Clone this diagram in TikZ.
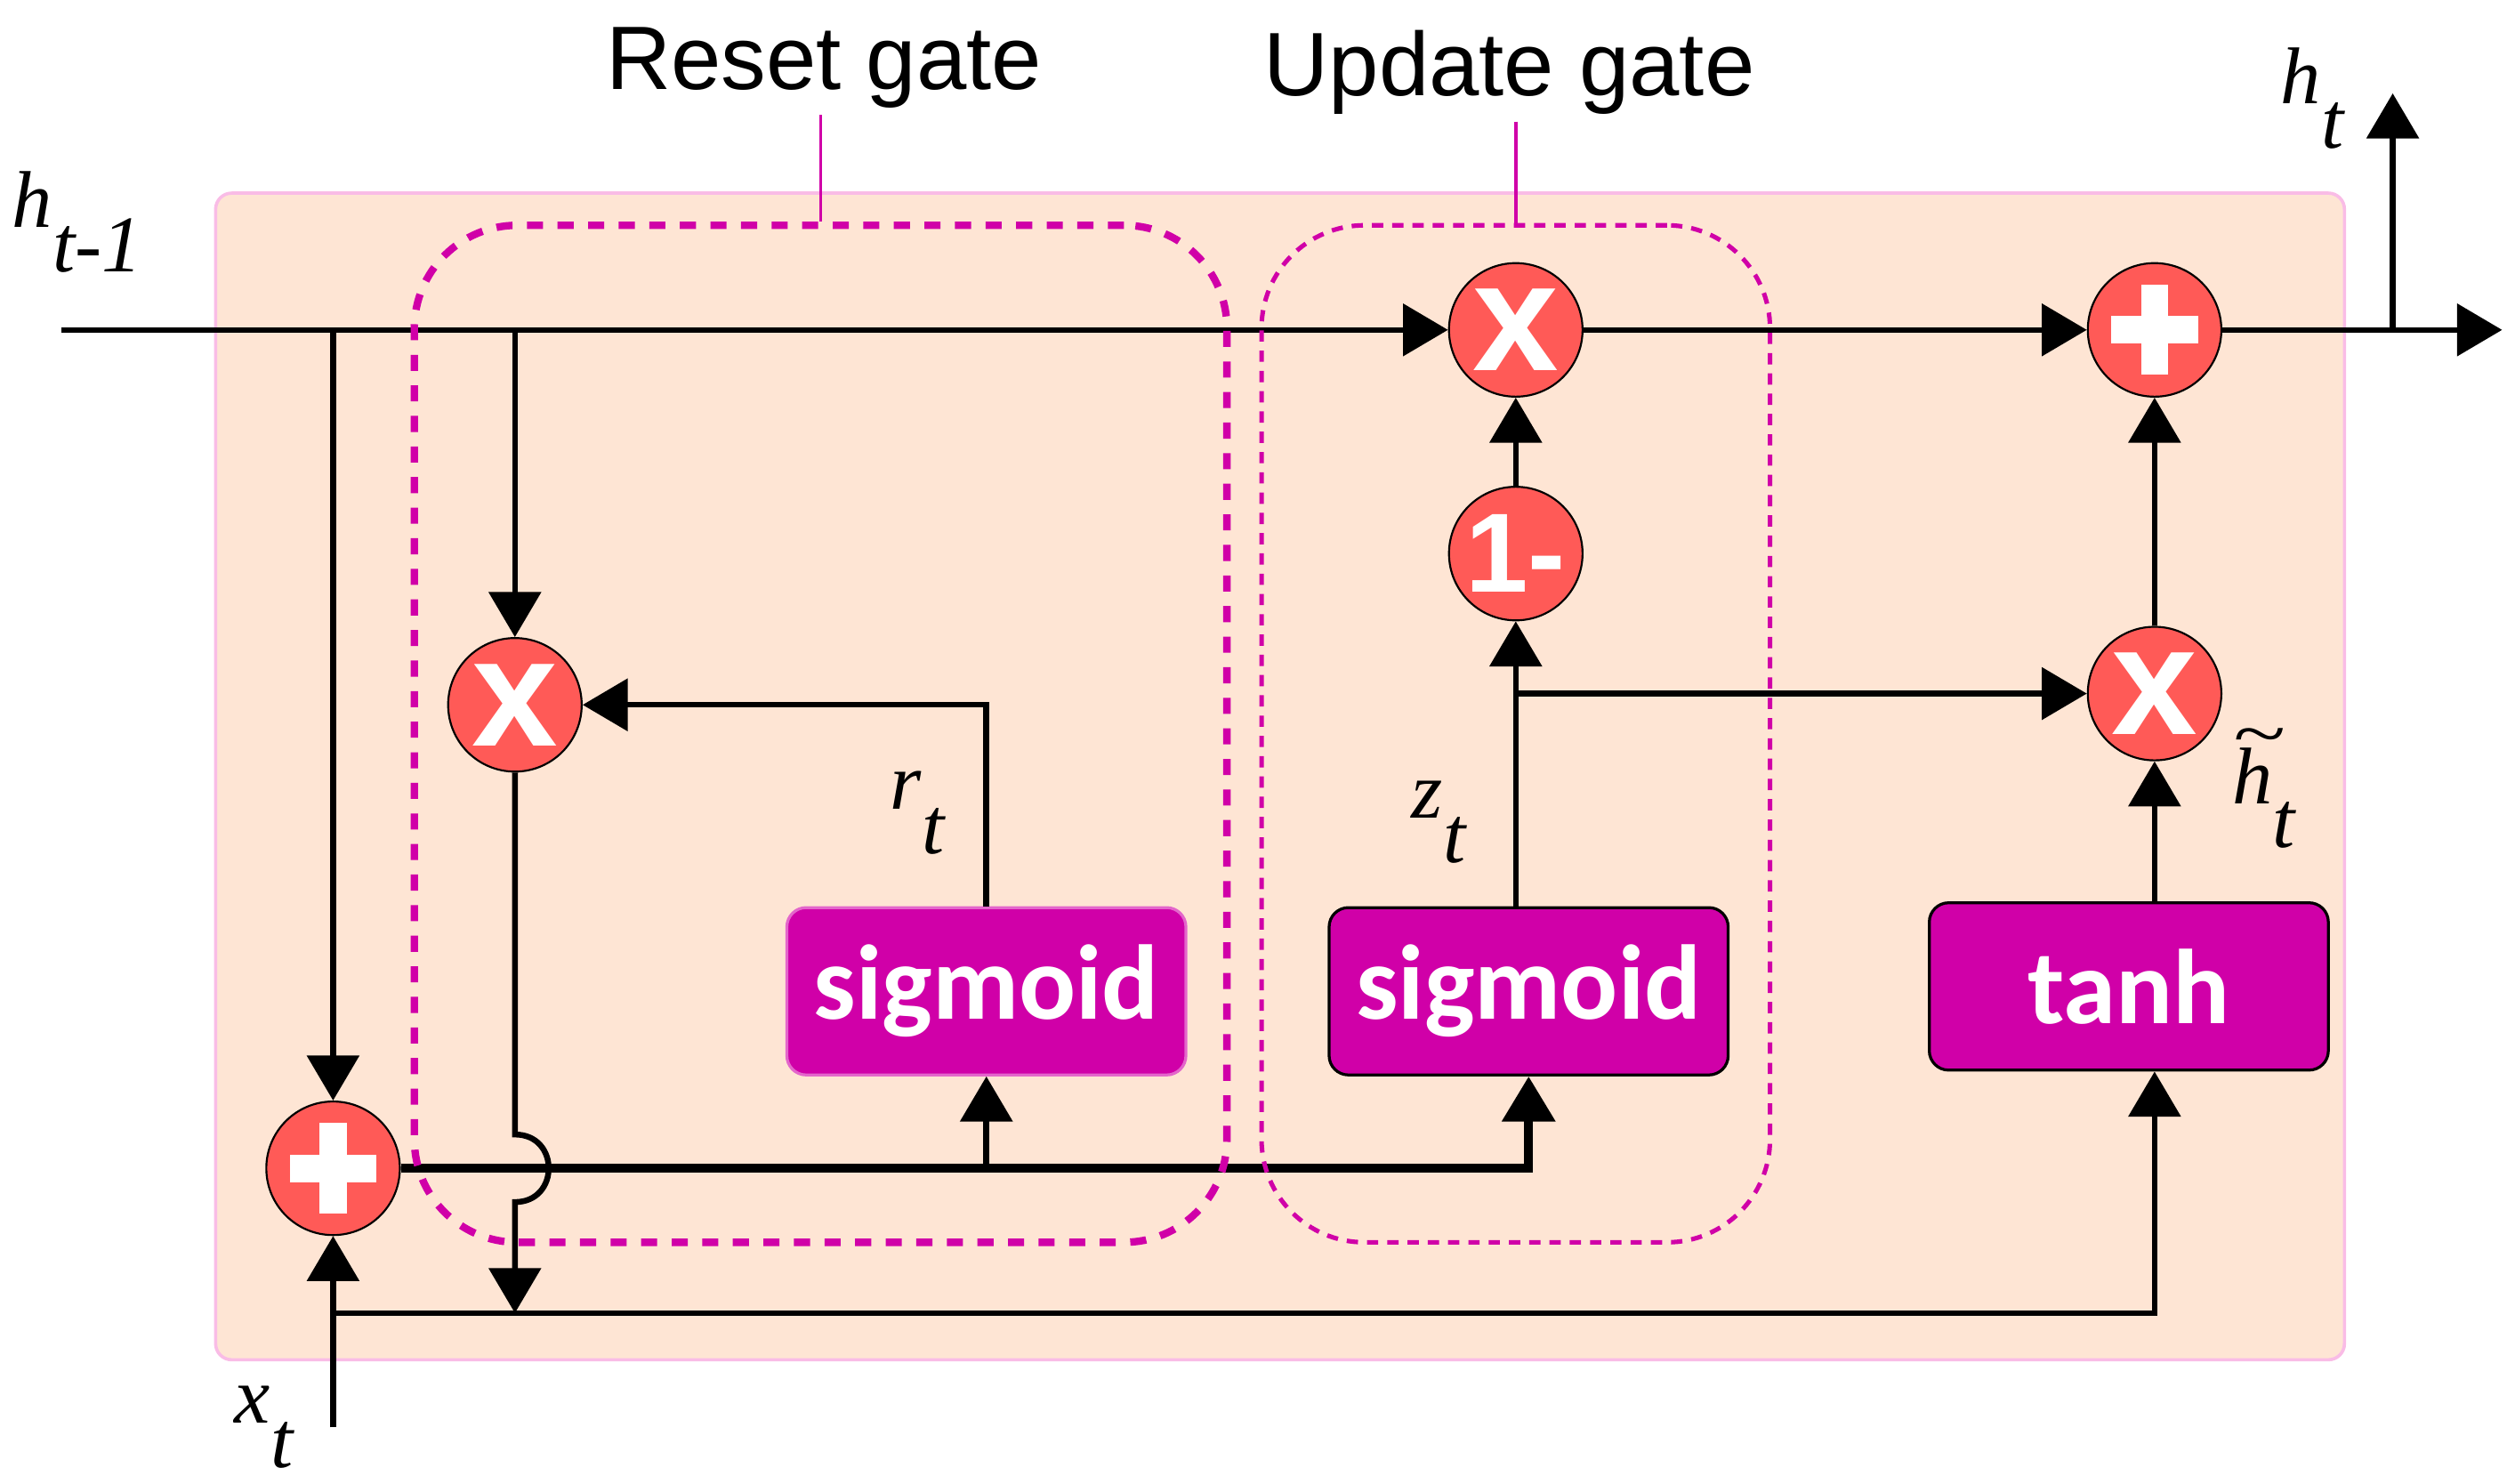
\documentclass[tikz,border=0pt]{standalone}
\usepackage{fontspec}
\setmainfont{Liberation Serif}
\newfontfamily\arialfont{Liberation Sans}
\newfontfamily\calibrifont{Carlito}
\usepackage{graphicx}
\usepackage{tikz}
\usetikzlibrary{arrows.meta}
\definecolor{cellbg}{HTML}{FEE5D4}
\definecolor{cellrim}{HTML}{F9BCE6}
\definecolor{opred}{HTML}{FF5A57}
\definecolor{gatemag}{HTML}{D000A8}
\newcommand{\lowsub}[2]{#1\raisebox{-0.55em}{#2}}
\newcommand{\wavetop}[1]{\makebox[0pt][l]{\raisebox{0.58em}{\scalebox{1.2}[0.85]{\char"7E}}}#1}

\begin{document}
\begin{tikzpicture}[x=0.5pt,y=-0.5pt]
\tikzset{>={Triangle[width=16pt,length=14pt]}}
\tikzstyle{op} =[circle, fill=opred, draw=black, line width=0.6pt, inner sep=0pt, minimum size=41.5pt, text=white, font=\arialfont\bfseries\fontsize{48}{48}\selectfont]
\tikzstyle{oneminus} =[op, font=\arialfont\bfseries\fontsize{35}{35}\selectfont]
\tikzstyle{plusop} =[op, path picture={
  \fill[white] ([shift={(-27,-8.5)}]path picture bounding box.center) rectangle ++(54,17);
  \fill[white] ([shift={(-8.5,-28)}]path picture bounding box.center) rectangle ++(17,56);}]
\tikzstyle{actbox} =[rectangle, rounded corners=6pt, fill=gatemag, draw=black, line width=0.9pt, minimum width=124pt, minimum height=52pt, text=white, font=\calibrifont\bfseries\fontsize{33}{36}\selectfont]
\tikzstyle{gatebox} =[rectangle, rounded corners=32pt, draw=gatemag, minimum height=316pt]
\tikzstyle{gatelab} =[font=\arialfont\fontsize{28}{30}\selectfont, inner sep=2pt]
\tikzstyle{varlab} =[font=\fontsize{25}{25}\selectfont\itshape, inner sep=0pt]
\tikzstyle{wire} =[line width=1.8pt]

\useasboundingbox (0,0) rectangle (1563,922);
\draw[draw=cellrim, fill=cellbg, line width=1pt, rounded corners=5pt] (134,120) rectangle (1457,845);

% operations
\node[op] (mr) at (320,438) {x};
\node[plusop] (pin) at (207,726) {};
\node[op] (mz) at (942,205) {x};
\node[oneminus] (om) at (942,344) {1-};
\node[plusop] (pout) at (1339,205) {};
\node[op] (mh) at (1339,431) {x};

% activations
\node[actbox, draw=gatemag!60!white] (sr) at (613,616) {sigmoid};
\node[actbox] (su) at (950,616) {sigmoid};
\node[actbox] (th) at (1323,613) {tanh};

% free ends and branch points
\coordinate (hin) at (38,205);
\coordinate (b1) at (207,205);
\coordinate (b2) at (320,205);
\coordinate (j1) at (320,705);
\coordinate (j2) at (320,747);
\coordinate (b3) at (320,816);
\coordinate (b4) at (613,726);
\coordinate (xin) at (207,887);
\coordinate (b5) at (207,816);
\coordinate (b6) at (942,431);
\coordinate (b7) at (1487,205);
\coordinate (hup) at (1487,58);
\coordinate (hout) at (1555,205);

\draw [->,wire] (hin) -- (mz);
\draw [->,wire] (b1) -- (pin);
\draw [->,wire] (b2) -- (mr);
\draw [->,wire] (sr.north) |- (mr);
\draw [->,wire] (mr) -- (j1) .. controls +(28,0) and +(28,0) .. (j2) -- (b3);
\draw [->,line width=2.8pt] (pin) -| (su.south);
\draw [->,wire] (b4) -- (sr.south);
\draw [->,wire] (xin) -- (pin);
\draw [->,wire] (b5) -| (th.south -| mh);
\draw [->,wire] (su.north -| om) -- (om);
\draw [->,wire] (b6) -- (mh);
\draw [->,wire] (om) -- (mz);
\draw [->,wire] (mz) -- (pout);
\draw [->,wire] (th.north -| mh) -- (mh);
\draw [->,wire] (mh) -- (pout);
\draw [->,wire] (pout) -- (hout);
\draw [->,wire] (b7) -- (hup);

% gates
\node[gatebox, line width=2.3pt, dash pattern=on 5pt off 4.5pt, minimum width=252.5pt] (gr) at (510,456) {};
\node[gatebox, line width=1.4pt, dash pattern=on 3.5pt off 2.8pt, minimum width=158pt] (gu) at (942,456) {};
\node[gatelab] (lreset) at (512,42) {Reset gate};
\node[gatelab] (lupdate) at (938,45) {Update gate};
\draw[gatemag, line width=1pt] (lreset.south -| gr.north) -- (gr.north);
\draw[gatemag, line width=1pt] (lupdate.south -| gu.north) -- (gu.north);

% labels
\node[varlab] (lhprev) at (48,138) {\lowsub{h}{t-1}};
\node[varlab] (lht) at (1437,61) {\lowsub{h}{t}};
\node[varlab] (lrt) at (570,505) {\lowsub{r}{t}};
\node[varlab] (lzt) at (894,511) {\lowsub{z}{t}};
\node[varlab] (lhtil) at (1407,490) {\lowsub{\wavetop{h}}{t}};
\node[varlab] (lxt) at (164,887) {\lowsub{x}{t}};
\end{tikzpicture}
\end{document}
